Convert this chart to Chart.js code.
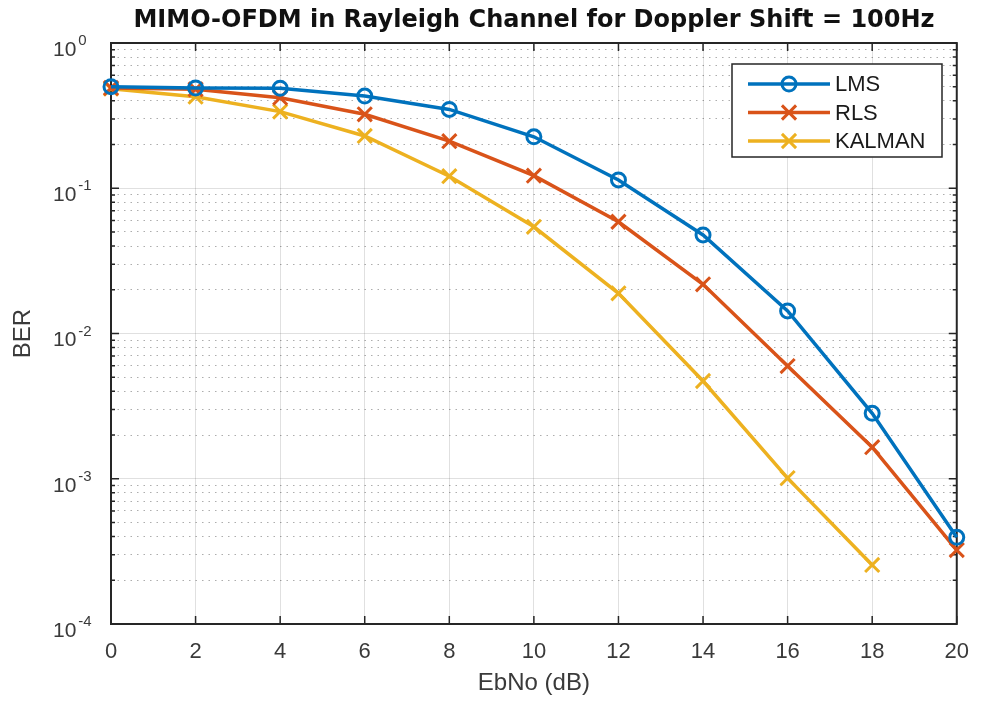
<!DOCTYPE html>
<html>
<head>
<meta charset="utf-8">
<title>MIMO-OFDM BER</title>
<script src="https://cdn.jsdelivr.net/npm/chart.js@4.4.1/dist/chart.umd.min.js"></script>
<style>
  html, body { margin: 0; padding: 0; background: #fff; }
  #berChart { display: block; }
</style>
</head>
<body>
<canvas id="berChart" width="984" height="702"></canvas>
<script>
  // EbNo values (dB)
  const ebno = [0, 2, 4, 6, 8, 10, 12, 14, 16, 18, 20];
  // BER
  const berLMS = [0.50, 0.49, 0.488, 0.431, 0.349, 0.226, 0.114, 0.0477, 0.0143, 0.00282, 0.000395];
  const berRLS = [0.49, 0.48, 0.42, 0.323, 0.211, 0.122, 0.0588, 0.0218, 0.00597, 0.00165, 0.000323];
  const berKalman = [0.485, 0.427, 0.337, 0.229, 0.121, 0.0543, 0.0189, 0.00471, 0.00101, 0.000255];

  const seriesNames = ['LMS', 'RLS', 'KALMAN'];
  const seriesColors = ['#0072BD', '#D95319', '#EDB120'];
  const seriesMarkers = ['circle', 'crossRot', 'crossRot'];

  const xTicks = [0, 2, 4, 6, 8, 10, 12, 14, 16, 18, 20];
  const yDecades = [-4, -3, -2, -1, 0];

  const titleText = 'MIMO-OFDM in Rayleigh Channel for Doppler Shift = 100Hz';
  const xTitle = 'EbNo (dB)';
  const yTitle = 'BER';

  const FONT = '"Liberation Sans", Arial, sans-serif';
  const AXIS_GREY = '#3a3a3a';

  function toPoints(vals) {
    return vals.map((v, i) => ({ x: ebno[i], y: v }));
  }

  function isMajor(ctx) {
    return ctx.tick && ctx.tick.major;
  }

  function markerRadius(style) {
    return style === 'circle' ? 7 : 10;
  }

  // same marker shapes as the datasets, for the legend
  function drawMarker(ctx, style, x, y, r) {
    ctx.beginPath();
    if (style === 'circle') {
      ctx.arc(x, y, r, 0, Math.PI * 2);
    } else {
      const d = r * Math.SQRT1_2;
      ctx.moveTo(x - d, y - d); ctx.lineTo(x + d, y + d);
      ctx.moveTo(x + d, y - d); ctx.lineTo(x - d, y + d);
    }
    ctx.stroke();
  }

  // box, inward ticks, y labels with exponents, title, legend
  const matlabAxes = {
    id: 'matlabAxes',
    beforeDatasetsDraw(chart) {
      const { ctx, chartArea: a, scales: { x, y } } = chart;
      ctx.save();
      ctx.strokeStyle = '#262626';
      ctx.lineWidth = 1.5;
      ctx.beginPath();
      xTicks.forEach(v => {
        const px = x.getPixelForValue(v);
        ctx.moveTo(px, a.bottom); ctx.lineTo(px, a.bottom - 8);
        ctx.moveTo(px, a.top); ctx.lineTo(px, a.top + 8);
      });
      y.ticks.forEach(t => {
        const py = y.getPixelForValue(t.value);
        const len = t.major ? 8 : 4;
        ctx.moveTo(a.left, py); ctx.lineTo(a.left + len, py);
        ctx.moveTo(a.right, py); ctx.lineTo(a.right - len, py);
      });
      ctx.stroke();
      ctx.lineWidth = 2;
      ctx.strokeRect(a.left, a.top, a.right - a.left, a.bottom - a.top);
      ctx.restore();
    },
    afterDraw(chart) {
      const { ctx, chartArea: a, scales: { y } } = chart;
      ctx.save();
      // y tick labels 10^n
      ctx.fillStyle = AXIS_GREY;
      ctx.textBaseline = 'middle';
      ctx.textAlign = 'left';
      yDecades.forEach(e => {
        const py = y.getPixelForValue(Math.pow(10, e));
        ctx.font = '21px ' + FONT;
        ctx.fillText('10', 53, py + 7);
        const w = ctx.measureText('10').width;
        ctx.font = '15px ' + FONT;
        ctx.fillText(e === 0 ? '0' : '-' + Math.abs(e), 53 + w + 2, py - 2);
      });
      // title
      ctx.fillStyle = '#111';
      ctx.textAlign = 'center';
      ctx.font = 'bold 24px "DejaVu Sans", sans-serif';
      ctx.fillText(titleText, 534, 21);

      // legend box
      const lx = 732, ly = 64, lw = 210, lh = 93;
      ctx.fillStyle = '#fff';
      ctx.fillRect(lx, ly, lw, lh);
      ctx.strokeStyle = '#262626';
      ctx.lineWidth = 1.5;
      ctx.strokeRect(lx, ly, lw, lh);
      ctx.font = '22px ' + FONT;
      ctx.textAlign = 'left';
      ctx.textBaseline = 'middle';
      seriesNames.forEach((name, i) => {
        const ry = ly + 20 + i * 28.5;
        ctx.strokeStyle = seriesColors[i];
        ctx.lineWidth = 3.5;
        ctx.beginPath();
        ctx.moveTo(748, ry); ctx.lineTo(830, ry);
        ctx.stroke();
        ctx.lineWidth = 3;
        drawMarker(ctx, seriesMarkers[i], 789, ry, markerRadius(seriesMarkers[i]));
        ctx.fillStyle = '#1a1a1a';
        ctx.fillText(name, 835, ry + 1);
      });
      ctx.restore();
    }
  };

  function makeDataset(i, vals) {
    return {
      label: seriesNames[i],
      data: toPoints(vals),
      borderColor: seriesColors[i],
      backgroundColor: seriesColors[i],
      borderWidth: 3.5,
      pointStyle: seriesMarkers[i],
      pointRadius: markerRadius(seriesMarkers[i]),
      pointBorderWidth: 3,
      pointBackgroundColor: 'rgba(0,0,0,0)',
      pointBorderColor: seriesColors[i],
      tension: 0,
      clip: false
    };
  }

  function createChart() {
    const ctx = document.getElementById('berChart').getContext('2d');
    Chart.defaults.font.family = FONT;

    return new Chart(ctx, {
      type: 'line',
      data: {
        datasets: [
          makeDataset(0, berLMS),
          makeDataset(1, berRLS),
          makeDataset(2, berKalman)
        ]
      },
      options: {
        responsive: false,
        animation: false,
        layout: { padding: { top: 43, right: 17, left: 0, bottom: 0 } },
        plugins: {
          legend: { display: false },
          tooltip: { enabled: false },
          title: { display: false }
        },
        scales: {
          x: {
            type: 'linear',
            min: 0,
            max: 20,
            afterBuildTicks: scale => {
              scale.ticks = xTicks.map(v => ({ value: v }));
            },
            afterFit: scale => { scale.height = 78; },
            ticks: {
              color: AXIS_GREY,
              font: { size: 22 },
              padding: 15,
              maxRotation: 0
            },
            grid: { color: 'rgba(0,0,0,0.12)', lineWidth: 1, drawTicks: false },
            border: { display: false },
            title: {
              display: true,
              text: xTitle,
              color: AXIS_GREY,
              font: { size: 24 },
              padding: { top: 0, bottom: 4 }
            }
          },
          y: {
            type: 'logarithmic',
            min: 1e-4,
            max: 1,
            afterBuildTicks: scale => {
              const t = [];
              yDecades.forEach(e => {
                for (let m = 1; m <= 9; m++) {
                  if (e === 0 && m > 1) break;
                  t.push({ value: m * Math.pow(10, e), major: m === 1 });
                }
              });
              scale.ticks = t;
            },
            afterFit: scale => { scale.width = 111; },
            ticks: { display: false },
            grid: {
              color: ctx => isMajor(ctx) ? 'rgba(0,0,0,0.12)' : 'rgba(0,0,0,0.32)',
              lineWidth: 1,
              drawTicks: false
            },
            border: {
              display: false,
              dash: ctx => isMajor(ctx) ? [] : [1.5, 5]
            },
            title: {
              display: true,
              text: yTitle,
              color: AXIS_GREY,
              font: { size: 24 },
              padding: { top: 9, bottom: 0 }
            }
          }
        }
      },
      plugins: [matlabAxes]
    });
  }

  window.onload = function () {
    createChart();
  };
</script>
</body>
</html>
